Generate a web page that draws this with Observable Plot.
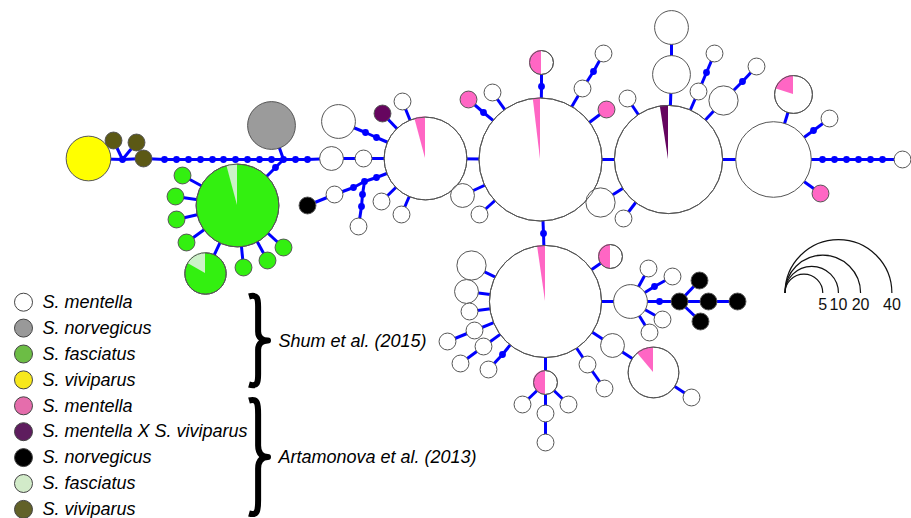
<!DOCTYPE html>
<html><head><meta charset="utf-8">
<script src="https://cdn.jsdelivr.net/npm/d3@7"></script>
<script src="https://cdn.jsdelivr.net/npm/@observablehq/plot@0.6"></script>
<style>body{margin:0;background:#fff} svg{display:block}</style>
</head><body><div id="chart"></div>
<script>
// ---- data ----
const speciesKeys = ["mentS","norS","fasS","vivS","mentA","hyb","norA","fasA","vivA"];
const legendLabels = ["S. mentella","S. norvegicus","S. fasciatus","S. viviparus","S. mentella","S. mentella X S. viviparus","S. norvegicus","S. fasciatus","S. viviparus"];
const groupLabels = ["Shum et al. (2015)", "Artamonova et al. (2013)"];
const scaleLegendCounts = [5, 10, 20, 40];

// haplotypes: [id, x, y, main species, count, minor species, minor count]
const haplotypes = [
  ["Y1",88,158,"vivS",7], ["O1",113,140,"vivA",1], ["O2",136,142,"vivA",1], ["O3",143,158,"vivA",1],
  ["G1",271,125,"norS",8],
  ["F0",237,205,"fasS",23,"fasA",1],
  ["F1",182,175,"fasS",1], ["F2",175,196,"fasS",1], ["F3",176,219,"fasS",1], ["F4",186,242,"fasS",1],
  ["F5",243,267,"fasS",1], ["F6",267,260,"fasS",1], ["F7",283,247,"fasS",1],
  ["F8",205,273,"fasS",5,"fasA",1],
  ["W1",331,158,"mentS",2], ["W2",363,158,"mentS",1],
  ["A",425,158,"mentS",23,"mentA",1],
  ["W3",338,121,"mentS",4], ["P1",382,113,"hyb",1], ["W4",402,101,"mentS",1],
  ["W5",334,194,"mentS",1], ["K1",307,205,"norA",1], ["W6",358,226,"mentS",1],
  ["W7",381,201,"mentS",1], ["W8",401,214,"mentS",1],
  ["B",540,159,"mentS",52,"mentA",1],
  ["H1",541,62,"mentS",1,"mentA",1], ["M1",468,99,"mentA",1], ["W9",492,92,"mentS",1],
  ["W10",582,88,"mentS",1], ["W11",603,53,"mentS",1], ["M2",606,109,"mentA",1],
  ["W12",462,195,"mentS",2], ["W13",479,214,"mentS",1],
  ["C",668,159,"mentS",40,"hyb",1],
  ["W14",671,74,"mentS",5], ["W15",671,27,"mentS",4],
  ["W16",698,91,"mentS",1], ["W17",714,53,"mentS",1],
  ["W18",723,100,"mentS",3], ["W19",756,66,"mentS",1],
  ["W20",627,98,"mentS",1], ["W21",600,202,"mentS",3], ["W22",623,218,"mentS",1],
  ["D",773,159,"mentS",20],
  ["Q1",793,94,"mentS",4,"mentA",1], ["W23",829,118,"mentS",1], ["M3",820,193,"mentA",1],
  ["W24",902,159,"mentS",1],
  ["E",545,301,"mentS",43,"mentA",1],
  ["H2",610,256,"mentS",1,"mentA",1],
  ["W25",630,301,"mentS",4], ["W26",648,268,"mentS",1], ["W27",672,276,"mentS",1],
  ["K2",679,301,"norA",1], ["K3",699,280,"norA",1], ["K4",708,301,"norA",1], ["K5",700,321,"norA",1], ["K6",737,301,"norA",1],
  ["W28",662,319,"mentS",1], ["W29",649,332,"mentS",1],
  ["W30",612,345,"mentS",2], ["Q2",653,372,"mentS",8,"mentA",1], ["W31",691,397,"mentS",1],
  ["W32",587,364,"mentS",1], ["W33",604,388,"mentS",1],
  ["H3",545,382,"mentS",1,"mentA",1],
  ["W34",522,404,"mentS",1], ["W35",568,404,"mentS",1], ["W36",545,413,"mentS",1], ["W37",545,442,"mentS",1],
  ["W38",471,265,"mentS",3], ["W39",466,291,"mentS",2], ["W40",469,311,"mentS",1], ["W41",474,330,"mentS",1],
  ["W42",447,341,"mentS",1], ["W43",483,346,"mentS",1], ["W44",460,363,"mentS",1], ["W45",488,369,"mentS",1]
];

// mutational steps / median vectors: [id, x, y]
const steps = [
  ["s1",122,159],
  ["m1",164,159],["m2",176,159],["m3",188,159],["m4",200,159],["m5",212,159],["m6",223,159],
  ["m7",235,159],["m8",247,159],["m9",259,159],["m10",271,159],["J2",283,159],["m12",295,159],["m13",307,159],
  ["g1",275,167],
  ["a1",376,137],["a2",365,132],["a3",376,177],["J3",364,181],["a4",353,187],["a5",362,194],["a6",361,206],
  ["b1",541,86],["b2",483,112],["b3",593,71],["b4",543,233],
  ["c1",706,72],["c2",742,81],
  ["d1",813,130],["r1",822,159],["r2",834,159],["r3",846,159],["r4",858,159],["r5",870,159],["r6",882,159],
  ["e1",654,286],["e2",659,301],["e3",502,354]
];

const links = [
  ["Y1","s1"],["O1","s1"],["O2","s1"],["s1","O3"],["O3","m1"],["m1","m2"],["m2","m3"],["m3","m4"],["m4","m5"],
  ["m5","m6"],["m6","m7"],["m7","m8"],["m8","m9"],["m9","m10"],["m10","J2"],["J2","m12"],["m12","m13"],
  ["m13","W1"],["W1","W2"],["W2","A"],
  ["G1","J2"],["J2","g1"],["g1","F0"],
  ["F0","F1"],["F0","F2"],["F0","F3"],["F0","F4"],["F0","F5"],["F0","F6"],["F0","F7"],["F0","F8"],
  ["A","a1"],["a1","a2"],["a2","W3"],["A","P1"],["A","W4"],
  ["A","a3"],["a3","J3"],["J3","a4"],["a4","W5"],["W5","K1"],["J3","a5"],["a5","a6"],["a6","W6"],
  ["A","W7"],["A","W8"],["A","B"],
  ["B","b1"],["b1","H1"],["B","b2"],["b2","M1"],["B","W9"],["B","W10"],["W10","b3"],["b3","W11"],
  ["B","M2"],["B","W12"],["B","W13"],["B","C"],["B","b4"],["b4","E"],
  ["C","W14"],["W14","W15"],["C","W16"],["W16","c1"],["c1","W17"],["C","W18"],["W18","c2"],["c2","W19"],
  ["C","W20"],["C","W21"],["C","W22"],["C","D"],
  ["D","Q1"],["D","d1"],["d1","W23"],["D","M3"],["D","r1"],["r1","r2"],["r2","r3"],["r3","r4"],["r4","r5"],["r5","r6"],["r6","W24"],
  ["E","H2"],["E","W25"],["W25","W26"],["W25","e1"],["e1","W27"],["W25","e2"],["e2","K2"],
  ["K2","K3"],["K2","K4"],["K4","K6"],["K2","K5"],["W25","W28"],["W25","W29"],
  ["E","W30"],["W30","Q2"],["Q2","W31"],["E","W32"],["W32","W33"],
  ["E","H3"],["H3","W34"],["H3","W35"],["H3","W36"],["W36","W37"],
  ["E","W38"],["E","W39"],["E","W40"],["E","W41"],["W41","W42"],["E","W43"],["W43","W44"],["E","e3"],["e3","W45"]
];

// ---- styles ----
const networkColors = ["#ffffff","#9b9b9b","#33f010","#ffff00","#ff66c4","#66055f","#000000","#ccf2c8","#5c5915"];
const legendColors  = ["#ffffff","#999999","#6cbd45","#f7e81c","#e56dac","#5e1d5e","#000000","#d2ebc9","#626128"];
const colorOf = sp => networkColors[speciesKeys.indexOf(sp)];
const FONT = "'Liberation Sans', Arial, sans-serif";

// ---- build tables ----
const nodes = new Map();
const hapData = haplotypes.map(([id,x,y,sp,n,msp,mn]) => {
  const d = {id,x,y,sp,n,msp,mn: mn||0,total: n+(mn||0)};
  nodes.set(id,d); return d;
});
const stepData = steps.map(([id,x,y]) => { const d = {id,x,y}; nodes.set(id,d); return d; });
const linkData = links.map(([a,b]) => ({a: nodes.get(a), b: nodes.get(b)}));
const pieData = hapData.filter(d => d.mn > 0);
const legendRows = legendLabels.map((label,i) => ({label, i, color: legendColors[i]}));

const legendX = 23, legendY0 = 301.7, legendDY = 25.9;
const rowY = d => legendY0 + d.i*legendDY;

function wedgeMark(index, scales) {
  const g = d3.create("svg:g");
  const arc = d3.arc().innerRadius(0);
  for (const d of pieData) {
    const R = scales.r(d.total), f = d.mn/d.total;
    g.append("path")
      .attr("transform", `translate(${scales.x(d.x)},${scales.y(d.y)})`)
      .attr("d", arc({outerRadius: R, startAngle: -2*Math.PI*f, endAngle: 0}))
      .attr("fill", colorOf(d.msp));
  }
  return g.node();
}

function sizeLegendMark(index, scales) {
  const g = d3.create("svg:g");
  const x0 = scales.x(785), y0 = scales.y(293);
  for (const n of scaleLegendCounts) {
    const R = scales.r(n);
    g.append("path").attr("d", `M${x0},${y0}A${R},${R} 0 0 1 ${x0+2*R},${y0}`)
      .attr("fill","none").attr("stroke","#111").attr("stroke-width",1.2);
    g.append("text").attr("x", x0+2*R).attr("y", y0+11.5).attr("dy","0.35em")
      .attr("text-anchor","middle").attr("font-size",16).attr("font-family",FONT)
      .attr("fill","#111").text(n);
  }
  return g.node();
}

function braceMark(index, scales) {
  const g = d3.create("svg:g");
  const braces = [[295,386],[399,515]];
  braces.forEach(([t,b]) => {
    const xl = scales.x(249), w = 19, y1 = scales.y(t), y2 = scales.y(b), h = y2-y1, ym = (y1+y2)/2, xm = xl + w*0.48;
    const p = `M${xl},${y1+1.5}C${xl+w*0.45},${y1-1} ${xm},${y1+h*0.04} ${xm},${y1+h*0.13}`+
      `L${xm},${ym-h*0.1}C${xm},${ym-h*0.02} ${xl+w*0.75},${ym} ${xl+w},${ym}`+
      `C${xl+w*0.75},${ym} ${xm},${ym+h*0.02} ${xm},${ym+h*0.1}`+
      `L${xm},${y2-h*0.13}C${xm},${y2-h*0.04} ${xl+w*0.45},${y2+1} ${xl},${y2-1.5}`;
    g.append("path").attr("d", p).attr("fill","none").attr("stroke","#000")
      .attr("stroke-width",6).attr("stroke-linejoin","round").attr("stroke-linecap","butt");
  });
  return g.node();
}

const chart = Plot.plot({
  width: 911, height: 518, margin: 0,
  x: {domain: [0, 911], range: [0, 911], axis: null},
  y: {domain: [0, 518], range: [0, 518], axis: null},
  r: {type: "sqrt", domain: [0, 1], range: [0, 8.45]},
  color: {type: "identity"},
  style: {background: "#fff", fontFamily: FONT, overflow: "visible"},
  marks: [
    Plot.link(linkData, {x1: d => d.a.x, y1: d => d.a.y, x2: d => d.b.x, y2: d => d.b.y, stroke: "#0000ff", strokeWidth: 3}),
    Plot.dot(stepData, {x: "x", y: "y", r: 3.4, fill: "#0000ff"}),
    Plot.dot(hapData, {x: "x", y: "y", r: "total", fill: d => colorOf(d.sp), stroke: "#555", strokeWidth: 1}),
    wedgeMark,
    Plot.dot(pieData, {x: "x", y: "y", r: "total", fill: "none", stroke: "#555", strokeWidth: 1}),
    sizeLegendMark,
    Plot.dot(legendRows, {x: legendX, y: rowY, r: 9, fill: "color", stroke: "#444", strokeWidth: 1}),
    Plot.text(legendRows, {x: 42, y: rowY, text: "label", textAnchor: "start", fontSize: 18, fontStyle: "italic", fill: "#000"}),
    braceMark,
    Plot.text(groupLabels, {x: 278, y: (d,i) => i === 0 ? 341 : 456.5, text: d => d, textAnchor: "start", fontSize: 18, fontStyle: "italic", fill: "#000"})
  ]
});
document.getElementById("chart").appendChild(chart);
</script>
</body></html>
